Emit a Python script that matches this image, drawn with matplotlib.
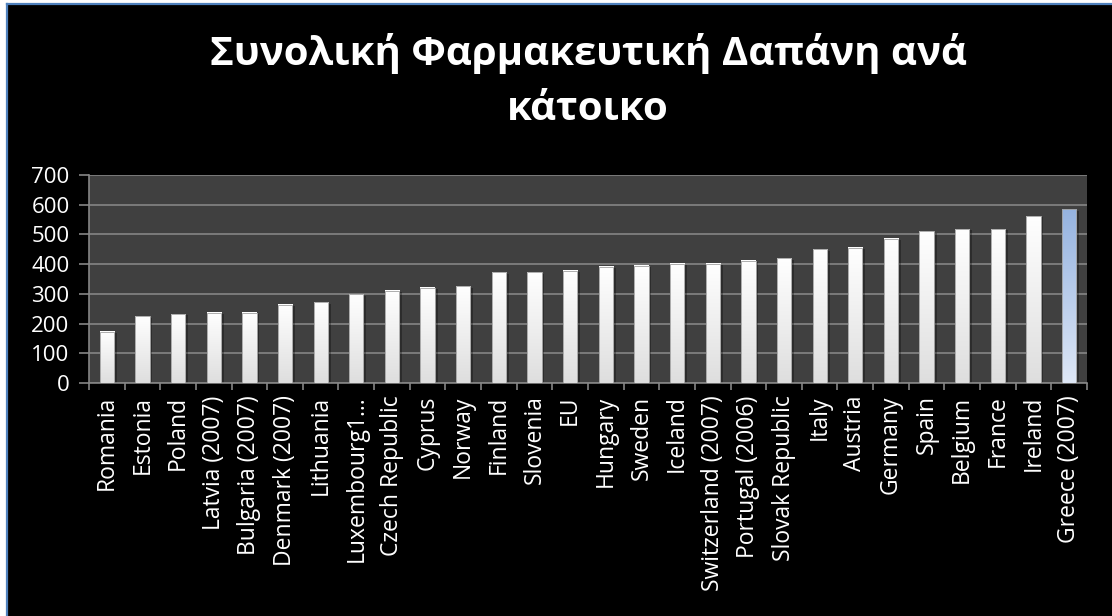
import numpy as np
import matplotlib.pyplot as plt
from matplotlib.patches import Rectangle
from matplotlib.lines import Line2D
import matplotlib.patheffects as pe

countries = ['Romania', 'Estonia', 'Poland', 'Latvia (2007)', 'Bulgaria (2007)',
             'Denmark (2007)', 'Lithuania', 'Luxembourg1\u2026', 'Czech Republic',
             'Cyprus', 'Norway', 'Finland', 'Slovenia', 'EU', 'Hungary', 'Sweden',
             'Iceland', 'Switzerland (2007)', 'Portugal (2006)', 'Slovak Republic',
             'Italy', 'Austria', 'Germany', 'Spain', 'Belgium', 'France', 'Ireland',
             'Greece (2007)']
spending = [173, 224, 232, 237, 237, 263, 272, 299, 311, 321, 326, 373, 373,
            378, 391, 395, 401, 402, 411, 420, 450, 455, 485, 510, 518, 518,
            562, 584]
highlight = 'Greece (2007)'
yticks = [0, 100, 200, 300, 400, 500, 600, 700]

font = 'Open Sans'
W, H = 1112, 616
fig = plt.figure(figsize=(W / 100, H / 100), dpi=100, facecolor='white')

# black chart area with blue frame on the left and top
fig.add_artist(Rectangle((6.5 / W, 0), 1, 1 - 4 / H, transform=fig.transFigure,
                         facecolor='black', edgecolor='none', zorder=0))
fig.add_artist(Line2D([6.5 / W, 6.5 / W], [0, 1 - 4 / H], transform=fig.transFigure,
                      color='#4f81bd', lw=1.6))
fig.add_artist(Line2D([6.5 / W, 1], [1 - 4 / H, 1 - 4 / H], transform=fig.transFigure,
                      color='#4f81bd', lw=1.6))

ax = fig.add_axes([89 / W, 1 - 383 / H, (1087 - 89) / W, (383 - 175) / H])
ax.set_facecolor('#404040')

x = np.arange(len(countries))
bars = ax.bar(x, spending, width=0.4, color='white', edgecolor='#9a9a9a',
              linewidth=0.6, zorder=2)

# vertical gradient fill inside each bar
grad = np.linspace(0, 1, 256).reshape(-1, 1)
for name, b in zip(countries, bars):
    b.set_path_effects([pe.SimplePatchShadow(offset=(2, -1), shadow_rgbFace='black',
                                             alpha=0.3), pe.Normal()])
    if name == highlight:
        top, bot = np.array([149, 179, 224]) / 255, np.array([222, 231, 246]) / 255
    else:
        top, bot = np.array([255, 255, 255]) / 255, np.array([222, 222, 222]) / 255
    img = (top + (bot - top) * grad).reshape(256, 1, 3)
    x0, w, h = b.get_x(), b.get_width(), b.get_height()
    ax.imshow(img, extent=[x0, x0 + w, 0, h], aspect='auto', zorder=3,
              interpolation='bilinear', origin='upper')
    ax.add_patch(Rectangle((x0, 0), w, h, facecolor='none', edgecolor='#a0a0a0',
                           linewidth=0.6, zorder=4))

ax.set_xlim(-0.5, len(countries) - 0.5)
ax.set_ylim(0, 700)
ax.set_yticks(yticks)
ax.set_yticklabels([str(v) for v in yticks], family=font, fontsize=16, color='white')
ax.yaxis.grid(True, color='#858585', linewidth=1.2, zorder=1)
ax.set_axisbelow(True)

ax.set_xticks(x)
ax.set_xticklabels(countries, rotation=90, family=font, fontsize=16.5, color='white',
                   va='top', ha='center')
ax.set_xticks(np.arange(-0.5, len(countries)), minor=True)
ax.tick_params(axis='x', which='major', length=0, pad=9)
ax.tick_params(axis='x', which='minor', length=5, color='#858585', width=1.2)
ax.tick_params(axis='y', length=7, color='#858585', width=1.2, pad=7)

for side in ['top', 'right']:
    ax.spines[side].set_visible(False)
for side in ['left', 'bottom']:
    ax.spines[side].set_color('#858585')
    ax.spines[side].set_linewidth(1.2)

title_x = (89 + 1087) / 2 / W
fig.text(title_x, 1 - 54 / H, 'Συνολική Φαρμακευτική Δαπάνη ανά',
         ha='center', va='center', family=font, fontweight='bold',
         fontsize=29, color='white')
fig.text(title_x, 1 - 110 / H, 'κάτοικο',
         ha='center', va='center', family=font, fontweight='bold',
         fontsize=29, color='white')

fig.savefig('out.png', dpi=100, facecolor=fig.get_facecolor())
